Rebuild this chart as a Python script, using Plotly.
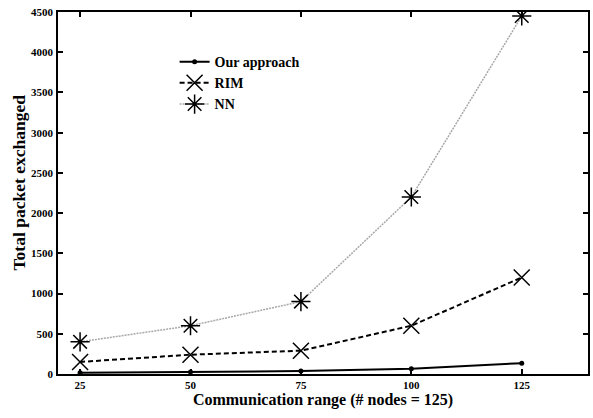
import plotly.graph_objects as go

x_vals = [25, 50, 75, 100, 125]
our_approach = [15, 25, 37, 65, 135]
rim = [150, 240, 290, 600, 1200]
nn = [400, 600, 900, 2200, 4450]
x_ticks = [25, 50, 75, 100, 125]
y_ticks = [0, 500, 1000, 1500, 2000, 2500, 3000, 3500, 4000, 4500]

font_family = "Liberation Serif"

fig = go.Figure()
fig.add_trace(go.Scatter(
    x=x_vals, y=our_approach, name="<b>Our approach</b>", mode="lines+markers",
    line=dict(color="black", width=2, dash="solid"),
    marker=dict(symbol="circle", size=5, color="black")))
fig.add_trace(go.Scatter(
    x=x_vals, y=rim, name="<b>RIM</b>", mode="lines+markers",
    line=dict(color="black", width=2, dash="5px,3px"),
    marker=dict(symbol="x-thin-open", size=16, line=dict(color="black", width=1.5), color="black")))
fig.add_trace(go.Scatter(
    x=x_vals, y=nn, name="<b>NN</b>", mode="lines+markers",
    line=dict(color="#a8a8a8", width=1.5, dash="2px,1px"),
    marker=dict(symbol="asterisk-open", size=16, line=dict(color="black", width=1.5), color="black")))

axis_common = dict(
    showline=True, linecolor="black", linewidth=1.8, mirror="ticks",
    ticks="inside", ticklen=5, tickwidth=1.5, tickcolor="black",
    showgrid=False, zeroline=False,
    tickfont=dict(family=font_family, size=11, color="black"),
)

fig.update_layout(
    width=593, height=418,
    margin=dict(l=58, r=3, t=12, b=44),
    paper_bgcolor="white", plot_bgcolor="white",
    font=dict(family=font_family, color="black"),
    xaxis=dict(range=[20, 140], tickvals=x_ticks, ticktext=[f"<b>{v}</b>" for v in x_ticks],
               title=dict(text="<b>Communication range (# nodes = 125)</b>",
                          font=dict(family=font_family, size=16), standoff=3),
               **axis_common),
    yaxis=dict(range=[0, 4500], tickvals=y_ticks, ticktext=[f"<b>{v}</b>" for v in y_ticks],
               ticklabelstandoff=1, **axis_common),
    annotations=[dict(text="<b>Total packet exchanged</b>", textangle=-90,
                      xref="paper", yref="paper", x=-0.073, y=0.53,
                      xanchor="center", yanchor="middle", showarrow=False,
                      font=dict(family=font_family, size=17.5, color="black"))],
    legend=dict(x=0.22, y=0.906, xanchor="left", yanchor="top",
                bgcolor="rgba(255,255,255,0)", borderwidth=0,
                font=dict(family=font_family, size=14, color="black"),
                itemwidth=30, tracegroupgap=0),
    showlegend=True,
)

fig.write_html("out.html")
